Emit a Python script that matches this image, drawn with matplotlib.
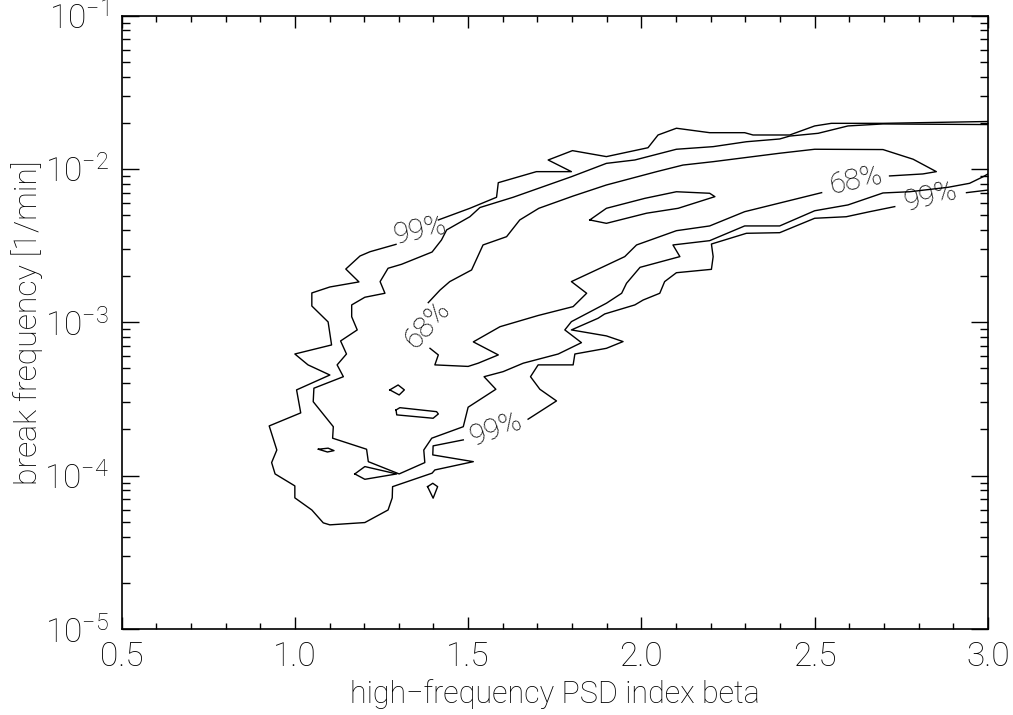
import matplotlib
matplotlib.use("Agg")
import matplotlib.pyplot as plt
from matplotlib.ticker import FixedLocator, MultipleLocator, LogLocator, NullFormatter
import numpy as np

plt.rcParams['font.family'] = ['Roboto', 'DejaVu Sans']
plt.rcParams['font.weight'] = 'light'
plt.rcParams['axes.labelweight'] = 'light'
plt.rcParams['mathtext.default'] = 'regular'

# ---- contour data: beta (x) and log10(break frequency) (y) ----
# 99% contour (outermost), broken at its labels
c99_top_beta = [3.0, 2.697, 2.548, 2.500, 2.428, 2.322, 2.298, 2.197, 2.101, 2.048, 2.019,
                1.899, 1.801, 1.731, 1.798, 1.697, 1.587, 1.582, 1.505, 1.414]
c99_top_logf = [-1.691, -1.703, -1.703, -1.720, -1.779, -1.779, -1.764, -1.764, -1.735, -1.779, -1.862,
                -1.920, -1.881, -1.942, -2.018, -2.018, -2.090, -2.185, -2.257, -2.333]

c99_left_beta = [1.292, 1.217, 1.188, 1.147, 1.185, 1.101, 1.049, 1.049, 1.096, 1.106, 1.000, 1.038,
                 1.101, 1.005, 1.017, 0.926, 0.948, 0.933, 0.943, 1.000, 1.000, 1.049, 1.082, 1.101,
                 1.202, 1.269, 1.281, 1.282, 1.396, 1.404, 1.515, 1.398, 1.399, 1.486]
c99_left_logf = [-2.492, -2.540, -2.568, -2.653, -2.737, -2.770, -2.809, -2.894, -2.998, -3.148, -3.207, -3.278,
                 -3.344, -3.441, -3.591, -3.676, -3.833, -3.915, -3.989, -4.067, -4.145, -4.224, -4.308, -4.321,
                 -4.306, -4.224, -4.145, -4.072, -3.984, -3.963, -3.909, -3.865, -3.806, -3.767]

c99_low_beta = [1.673, 1.755, 1.707, 1.680, 1.702, 1.803, 1.808, 1.899, 1.947, 1.899, 1.798, 1.875,
                1.894, 1.981, 2.005, 2.053, 2.067, 2.101, 2.202, 2.207, 2.202, 2.303, 2.399, 2.500,
                2.591, 2.659, 2.731]
c99_low_logf = [-3.632, -3.513, -3.437, -3.355, -3.278, -3.278, -3.207, -3.170, -3.126, -3.089, -3.050, -2.974,
                -2.946, -2.887, -2.855, -2.811, -2.735, -2.677, -2.655, -2.572, -2.490, -2.420, -2.416, -2.322,
                -2.312, -2.279, -2.246]

c99_end_beta = [2.938, 3.0]
c99_end_logf = [-2.155, -2.138]

# middle contour (unlabelled)
cmid_beta = [3.0, 2.697, 2.596, 2.510, 2.428, 2.399, 2.303, 2.207, 2.101, 1.981, 1.899, 1.798, 1.630,
             1.534, 1.505, 1.438, 1.423, 1.396, 1.308, 1.269, 1.246, 1.260, 1.202, 1.164, 1.164, 1.180,
             1.132, 1.149, 1.122, 1.140, 1.055, 1.053, 1.111, 1.109, 1.207, 1.212, 1.301, 1.375, 1.372,
             1.395, 1.486, 1.500, 1.580, 1.546, 1.601, 1.659, 1.760, 1.827, 1.779, 1.798, 1.899, 1.943,
             1.957, 1.996, 2.111, 2.091, 2.197, 2.298, 2.399, 2.500, 2.596, 2.697, 2.774, 2.885, 2.947,
             2.986, 3.0]
cmid_logf = [-1.711, -1.707, -1.720, -1.768, -1.786, -1.805, -1.823, -1.855, -1.872, -1.942, -1.964, -2.051, -2.185,
             -2.252, -2.312, -2.398, -2.464, -2.542, -2.622, -2.648, -2.735, -2.811, -2.837, -2.887, -2.964, -3.050,
             -3.122, -3.207, -3.278, -3.355, -3.430, -3.518, -3.681, -3.756, -3.828, -3.909, -3.989, -3.915, -3.833,
             -3.756, -3.681, -3.554, -3.437, -3.355, -3.322, -3.267, -3.207, -3.133, -3.050, -2.996, -2.876, -2.811,
             -2.746, -2.642, -2.572, -2.496, -2.468, -2.372, -2.372, -2.273, -2.235, -2.157, -2.149, -2.120, -2.094,
             -2.051, -2.033]

# 68% contour, broken at its two labels
c68_a_beta = [1.385, 1.419, 1.447, 1.510, 1.543, 1.611, 1.649, 1.704, 1.803, 1.899, 2.044, 2.120, 2.207,
              2.399, 2.500, 2.697, 2.784, 2.851, 2.812, 2.716]
c68_a_logf = [-2.872, -2.790, -2.735, -2.659, -2.496, -2.442, -2.333, -2.257, -2.177, -2.105, -2.018, -1.975, -1.953,
              -1.898, -1.872, -1.874, -1.937, -2.018, -2.033, -2.046]
c68_b_beta = [2.520, 2.298, 2.197, 2.101, 1.986, 1.952, 1.890, 1.798, 1.842, 1.803, 1.702, 1.592, 1.515,
              1.587, 1.529, 1.500, 1.404, 1.414, 1.390]
c68_b_logf = [-2.155, -2.279, -2.372, -2.403, -2.496, -2.572, -2.638, -2.735, -2.811, -2.898, -2.956, -3.029, -3.128,
              -3.213, -3.267, -3.288, -3.278, -3.213, -3.170]

# small closed islands
island_beta = [
    [1.851, 1.899, 2.010, 2.101, 2.197, 2.212, 2.106, 2.015, 1.899, 1.851],
    [1.274, 1.298, 1.316, 1.301, 1.274],
    [1.292, 1.303, 1.409, 1.414, 1.399, 1.294, 1.292],
    [1.068, 1.096, 1.113, 1.094, 1.068],
    [1.173, 1.202, 1.294, 1.202, 1.173],
    [1.383, 1.398, 1.412, 1.399, 1.383],
]
island_logf = [
    [-2.333, -2.257, -2.192, -2.149, -2.159, -2.181, -2.257, -2.289, -2.355, -2.333],
    [-3.441, -3.409, -3.441, -3.474, -3.441],
    [-3.572, -3.557, -3.583, -3.598, -3.626, -3.604, -3.572],
    [-3.828, -3.821, -3.837, -3.846, -3.828],
    [-3.989, -3.941, -3.989, -4.024, -3.989],
    [-4.072, -4.050, -4.072, -4.147, -4.072],
]

# contour labels
label_text = ['99%', '99%', '68%', '68%', '99%']
label_beta = [1.361, 1.580, 1.381, 2.618, 2.835]
label_logf = [-2.405, -3.696, -3.018, -2.079, -2.183]
label_rot = [12, 20, 48, 12, 14]

xticks = [0.5, 1.0, 1.5, 2.0, 2.5, 3.0]
xticklabels = ['0.5', '1.0', '1.5', '2.0', '2.5', '3.0']
yticks = [1e-5, 1e-4, 1e-3, 1e-2, 1e-1]
yticklabels = ['10$^{-5}$', '10$^{-4}$', '10$^{-3}$', '10$^{-2}$', '10$^{-1}$']

fig = plt.figure(figsize=(10.13, 7.15), dpi=100)
ax = fig.add_axes([0.12, 0.1203, 0.8553, 0.858])

lw = 1.0
segments = [(c99_top_beta, c99_top_logf), (c99_left_beta, c99_left_logf),
            (c99_low_beta, c99_low_logf), (c99_end_beta, c99_end_logf),
            (cmid_beta, cmid_logf), (c68_a_beta, c68_a_logf), (c68_b_beta, c68_b_logf)]
for bx, bl in segments:
    ax.plot(bx, 10 ** np.array(bl), color='black', lw=lw, clip_on=True)
for bx, bl in zip(island_beta, island_logf):
    ax.plot(bx, 10 ** np.array(bl), color='black', lw=lw)

for t, bx, bl, r in zip(label_text, label_beta, label_logf, label_rot):
    ax.text(bx, 10 ** bl, t, rotation=r, rotation_mode='anchor', ha='center', va='center',
            fontsize=21, color='black', fontweight='light')

ax.set_yscale('log')
ax.set_xlim(0.5, 3.0)
ax.set_ylim(1e-5, 1e-1)

ax.xaxis.set_major_locator(FixedLocator(xticks))
ax.set_xticklabels(xticklabels)
ax.xaxis.set_minor_locator(MultipleLocator(0.1))
ax.yaxis.set_major_locator(FixedLocator(yticks))
ax.set_yticklabels(yticklabels)
ax.yaxis.set_minor_locator(LogLocator(base=10, subs=np.arange(2, 10)))
ax.yaxis.set_minor_formatter(NullFormatter())

ax.tick_params(which='both', direction='in', top=True, right=True, labelsize=24,
               width=1.0, labelcolor='black')
ax.tick_params(axis='x', which='major', length=8.6, pad=9)
ax.tick_params(axis='x', which='minor', length=4.3)
ax.tick_params(axis='y', which='major', length=12.2, pad=9)
ax.tick_params(axis='y', which='minor', length=6.1)
for s in ax.spines.values():
    s.set_linewidth(1.2)

ax.set_xlabel('high\u2212frequency PSD index beta', fontsize=22, labelpad=4, color='black')
ax.set_ylabel('break frequency [1/min]', fontsize=23, labelpad=1, color='black')

fig.savefig('out.png', dpi=100)
